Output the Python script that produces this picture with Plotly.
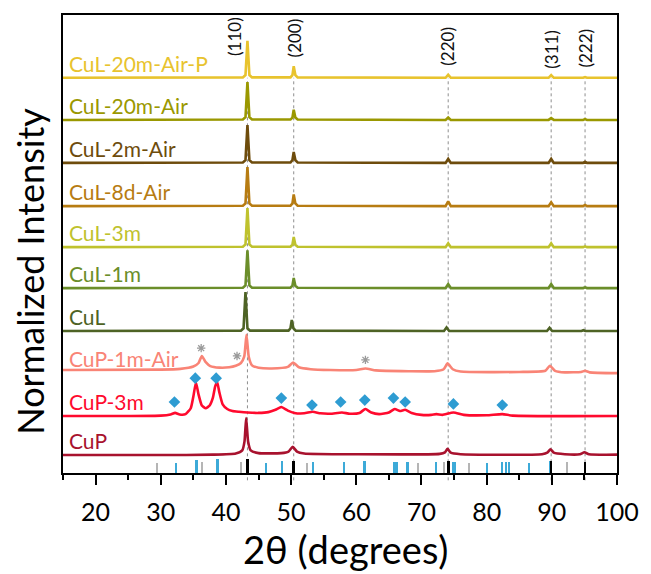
import plotly.graph_objects as go

# ---------------- diffraction data (2θ in degrees, normalized intensity) ----------------
# Common 2θ grid for the sharp-peaked CuL patterns
cul_2theta = [15, 42.6, 43.0, 43.3, 43.6, 44.0, 49.9, 50.2, 50.4, 50.65, 51.0,
              73.7, 74.1, 74.5, 89.5, 89.9, 90.3, 94.8, 95.1, 95.4, 100]
# the as-made CuL pattern sits slightly lower in 2θ
cul0_2theta = [15, 42.3, 42.7, 43.0, 43.3, 43.7, 49.6, 49.9, 50.1, 50.35, 50.7,
               73.45, 73.85, 74.25, 89.25, 89.65, 90.05, 94.55, 94.85, 95.15, 100]

cul_20m_air_p = [0.0, 0.01, 0.07, 0.95, 0.07, 0.01, 0.01, 0.07, 0.30, 0.07, 0.01,
                 0.0, 0.08, 0.0, 0.0, 0.07, 0.0, 0.0, 0.02, 0.0, 0.0]
cul_20m_air = [0.0, 0.01, 0.07, 0.97, 0.07, 0.01, 0.01, 0.06, 0.26, 0.06, 0.01,
               0.0, 0.06, 0.0, 0.0, 0.045, 0.0, 0.0, 0.02, 0.0, 0.0]
cul_2m_air = [0.0, 0.01, 0.07, 0.97, 0.07, 0.01, 0.01, 0.07, 0.28, 0.07, 0.01,
              0.0, 0.10, 0.0, 0.0, 0.10, 0.0, 0.0, 0.03, 0.0, 0.0]
cul_8d_air = [0.0, 0.01, 0.07, 1.00, 0.07, 0.01, 0.01, 0.07, 0.30, 0.07, 0.01,
              0.0, 0.12, 0.0, 0.0, 0.10, 0.0, 0.0, 0.03, 0.0, 0.0]
cul_3m = [0.0, 0.01, 0.07, 1.00, 0.07, 0.01, 0.01, 0.06, 0.26, 0.06, 0.01,
          0.0, 0.10, 0.0, 0.0, 0.10, 0.0, 0.0, 0.02, 0.0, 0.0]
cul_1m = [0.0, 0.01, 0.07, 0.97, 0.07, 0.01, 0.01, 0.06, 0.26, 0.06, 0.01,
          0.0, 0.10, 0.0, 0.0, 0.10, 0.0, 0.0, 0.02, 0.0, 0.0]
cul_0 = [0.0, 0.01, 0.07, 1.00, 0.07, 0.01, 0.01, 0.07, 0.28, 0.07, 0.01,
         0.0, 0.09, 0.0, 0.0, 0.08, 0.0, 0.0, 0.02, 0.0, 0.0]

cup_1m_air_2theta = [15, 30, 33, 35, 35.8, 36.3, 36.9, 37.6, 39, 40.5,
                     41.5, 42.3, 42.8, 43.15, 43.5, 44.0, 45, 47, 49.5, 50.3,
                     51.2, 53, 56, 60, 61.4, 63, 68, 72, 73.4, 74.0,
                     74.8, 76, 85, 89.0, 89.7, 90.5, 92, 94.5, 95.1, 95.8, 100]
cup_1m_air = [0.08, 0.09, 0.11, 0.17, 0.26, 0.44, 0.28, 0.18, 0.14, 0.15,
              0.19, 0.26, 0.42, 0.98, 0.42, 0.20, 0.14, 0.12, 0.16, 0.27,
              0.15, 0.10, 0.08, 0.08, 0.12, 0.07, 0.05, 0.05, 0.10, 0.25,
              0.10, 0.04, 0.03, 0.06, 0.19, 0.06, 0.02, 0.03, 0.06, 0.02, 0.0]

cup_3m_2theta = [15, 25, 30, 31.5, 32.2, 32.9, 33.8, 34.6, 35.0, 35.4,
                 35.8, 36.3, 36.9, 37.5, 38.0, 38.35, 38.65, 39.0, 39.5, 40.2,
                 41.0, 42.0, 43.3, 45.0, 46.5, 47.6, 48.5, 49.5, 50.5, 52.0,
                 53.3, 54.5, 56.0, 57.8, 59.0, 60.5, 61.4, 62.3, 63.5, 65.0,
                 65.9, 66.7, 67.5, 68.5, 70.0, 71.5, 72.3, 73.2, 74.9, 76.5,
                 80.0, 82.4, 84.0, 100]
cup_3m = [0.0, 0.0, 0.01, 0.04, 0.08, 0.04, 0.05, 0.20, 0.50, 0.86,
          0.55, 0.27, 0.20, 0.27, 0.47, 0.76, 0.87, 0.60, 0.30, 0.18,
          0.13, 0.11, 0.09, 0.08, 0.10, 0.16, 0.23, 0.14, 0.08, 0.07,
          0.11, 0.07, 0.06, 0.09, 0.06, 0.08, 0.18, 0.09, 0.05, 0.09,
          0.18, 0.13, 0.16, 0.08, 0.03, 0.03, 0.05, 0.03, 0.09, 0.03,
          0.02, 0.05, 0.01, 0.0]

cup_2theta = [15, 30, 38, 41.5, 42.5, 42.85, 43.1, 43.4, 43.8, 45,
              48.5, 49.6, 50.25, 50.9, 52, 60, 72.8, 73.6, 74.0, 74.5,
              76, 88.5, 89.3, 89.8, 90.3, 92, 94.3, 95.0, 95.7, 100]
cup_0 = [0.0, 0.0, 0.01, 0.04, 0.12, 0.35, 0.95, 0.35, 0.12, 0.05,
         0.05, 0.09, 0.21, 0.09, 0.04, 0.02, 0.03, 0.07, 0.16, 0.06,
         0.02, 0.02, 0.06, 0.15, 0.06, 0.02, 0.02, 0.07, 0.02, 0.01]

# sample names, bottom to top, with their stacking offsets
sample_names = ["CuP", "CuP-3m", "CuP-1m-Air", "CuL", "CuL-1m", "CuL-3m",
                "CuL-8d-Air", "CuL-2m-Air", "CuL-20m-Air", "CuL-20m-Air-P"]
stack_offsets = [0.0, 1.0, 2.10, 3.18, 4.28, 5.33, 6.38, 7.49, 8.59, 9.67]
sample_2theta = [cup_2theta, cup_3m_2theta, cup_1m_air_2theta, cul0_2theta,
                 cul_2theta, cul_2theta, cul_2theta, cul_2theta, cul_2theta, cul_2theta]
sample_intensity = [cup_0, cup_3m, cup_1m_air, cul_0, cul_1m, cul_3m,
                    cul_8d_air, cul_2m_air, cul_20m_air, cul_20m_air_p]
sample_colors = ["#A8122E", "#FF0A2E", "#F98476", "#4E6325", "#6B8E2A", "#BFC22E",
                 "#B77C12", "#6E4C0C", "#9A9800", "#E8C32E"]

# Cu reflections (hkl labels and reference lines)
cu_hkl = ["(110)", "(200)", "(220)", "(311)", "(222)"]
cu_hkl_2theta = [43.3, 50.4, 74.1, 89.9, 95.1]

# reference patterns (stick positions and relative heights)
ref_cu_pos = [43.3, 50.4, 74.1, 89.85, 95.1]
ref_cu_h = [0.36, 0.32, 0.30, 0.30, 0.28]
ref_cu2o_pos = [29.5, 36.4, 42.3, 52.5, 61.4, 69.5, 73.5, 77.3, 92.4]
ref_cu2o_h = [0.26, 0.28, 0.27, 0.26, 0.28, 0.26, 0.27, 0.26, 0.27]
ref_cu3p_pos = [32.4, 35.4, 35.6, 38.7, 38.85, 46.2, 48.6, 53.4, 58.2, 61.3,
                65.9, 66.2, 67.9, 72.3, 74.9, 75.1, 80.1, 82.4, 83.0, 83.5, 86.5, 89.8]
ref_cu3p_h = [0.26, 0.34, 0.34, 0.36, 0.36, 0.26, 0.30, 0.28, 0.28, 0.30,
              0.29, 0.29, 0.28, 0.28, 0.28, 0.28, 0.26, 0.28, 0.28, 0.28, 0.26, 0.30]

# phase markers
diamond_2theta = [32.1, 35.3, 38.5, 48.5, 53.2, 57.6, 61.3, 65.7, 67.5, 74.9, 82.4]
diamond_y = [1.36, 1.97, 1.97, 1.46, 1.28, 1.36, 1.41, 1.46, 1.36, 1.31, 1.28]
star_2theta = [36.2, 41.7, 61.4]
star_y = [2.74, 2.54, 2.44]

Y_MIN, Y_MAX = -0.46, 11.28
FONT = "Lato"

fig = go.Figure()

# reference sticks along the bottom
for pos, h, col, w in [(ref_cu2o_pos, ref_cu2o_h, "#B5B5B5", 0.22),
                       (ref_cu3p_pos, ref_cu3p_h, "#3DAAD8", 0.25),
                       (ref_cu_pos, ref_cu_h, "#000000", 0.40)]:
    fig.add_trace(go.Bar(x=pos, y=h, base=Y_MIN, width=w, marker_color=col,
                         marker_line_width=0, showlegend=False, hoverinfo="skip"))

# stacked patterns
for name, tt, inten, off, col in zip(sample_names, sample_2theta, sample_intensity,
                                     stack_offsets, sample_colors):
    shape = "spline" if name.startswith("CuP") else "linear"
    fig.add_trace(go.Scatter(
        x=tt, y=[v + off for v in inten], mode="lines", name=name,
        line=dict(color=col, width=2.6, shape=shape, smoothing=0.5),
        showlegend=False))
    fig.add_annotation(x=15.6, y=off + 0.37, xref="x", yref="y", text=name,
                       showarrow=False, xanchor="left", yanchor="middle",
                       font=dict(family=FONT, size=21, color=col))

fig.add_trace(go.Scatter(x=diamond_2theta, y=diamond_y, mode="markers",
                         marker=dict(symbol="diamond", size=9, color="#2E9CD2"),
                         showlegend=False))
fig.add_trace(go.Scatter(x=star_2theta, y=star_y, mode="markers",
                         marker=dict(symbol="asterisk-open", size=7, color="#9A9A9A",
                                     line=dict(color="#9A9A9A", width=1.3)),
                         showlegend=False))

# dotted guide lines through the Cu reflections
top_paper = (stack_offsets[-1] - Y_MIN) / (Y_MAX - Y_MIN)
for t in cu_hkl_2theta:
    fig.add_shape(type="line", xref="x", yref="paper", x0=t, x1=t,
                  y0=-0.016, y1=top_paper, layer="below",
                  line=dict(color="#8E8E8E", width=1, dash="dot"))

# hkl labels
hkl_label_x = [41.4, 50.5, 74.05, 90.0, 95.15]
hkl_label_y = [10.72, 10.69, 10.49, 10.41, 10.43]
for lab, lx, ly in zip(cu_hkl, hkl_label_x, hkl_label_y):
    fig.add_annotation(x=lx, y=ly, xref="x", yref="y", text=lab, textangle=-90,
                       showarrow=False, font=dict(family=FONT, size=17, color="#111"))

# axis titles
fig.add_annotation(x=0.511, y=-0.166, xref="paper", yref="paper",
                   xanchor="center", yanchor="middle",
                   text="2θ (degrees)", showarrow=False,
                   font=dict(family=FONT, size=38, color="#000"))
fig.add_annotation(x=-0.059, y=0.44, xref="paper", yref="paper",
                   xanchor="center", yanchor="middle",
                   text="Normalized Intensity", textangle=-90, showarrow=False,
                   font=dict(family=FONT, size=36, color="#000"))

fig.update_layout(
    width=651, height=574,
    margin=dict(l=63, r=28, t=15, b=101),
    paper_bgcolor="white", plot_bgcolor="white",
    barmode="overlay", bargap=0,
    showlegend=False,
)
fig.update_xaxes(range=[15, 100], tick0=0, dtick=10, ticks="outside", ticklen=10,
                 tickwidth=2, tickcolor="#000", showline=True, linewidth=2,
                 linecolor="#000", mirror=True, showgrid=False, zeroline=False,
                 tickfont=dict(family=FONT, size=25, color="#000"),
                 ticklabelstandoff=6,
                 minor=dict(dtick=5, ticks="outside", ticklen=5, tickwidth=1.5,
                            tickcolor="#000", showgrid=False))
fig.update_yaxes(range=[Y_MIN, Y_MAX], showticklabels=False, ticks="",
                 showline=True, linewidth=2, linecolor="#000", mirror=True,
                 showgrid=False, zeroline=False)

fig.write_html("out.html")
